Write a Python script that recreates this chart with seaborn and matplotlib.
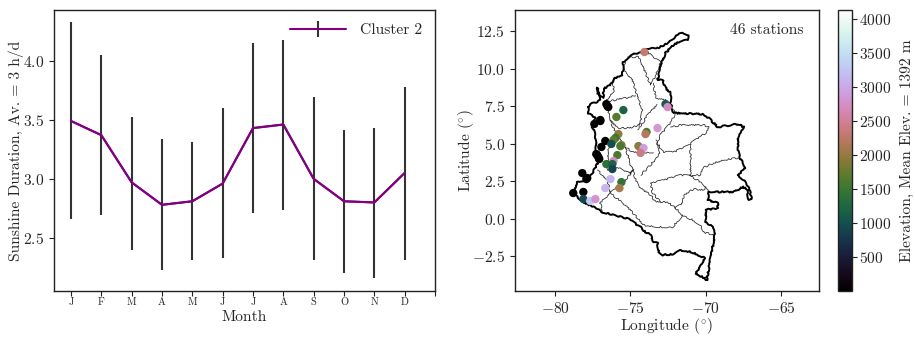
import matplotlib
matplotlib.use('Agg')
import matplotlib.pyplot as plt
import seaborn as sns
import pandas as pd
from matplotlib.cm import ScalarMappable
from matplotlib.colors import Normalize

months = ['J', 'F', 'M', 'A', 'M', 'J', 'J', 'A', 'S', 'O', 'N', 'D', '']
sun_mean = [3.49, 3.37, 2.97, 2.78, 2.81, 2.96, 3.43, 3.46, 3.00, 2.81, 2.80, 3.05]
sun_top = [4.33, 4.05, 3.52, 3.34, 3.31, 3.60, 4.15, 4.18, 3.69, 3.41, 3.43, 3.78]
sun_bottom = [2.66, 2.69, 2.40, 2.23, 2.31, 2.33, 2.71, 2.74, 2.31, 2.20, 2.16, 2.31]

# estaciones: lon, lat, elevacion
station_lon = [-74.07, -72.67, -72.53, -76.53, -76.47, -76.60, -75.47, -75.93, -77.00, -77.40,
               -73.20, -73.93, -74.00, -75.80, -76.00, -76.13, -76.67, -76.27, -76.93, -75.60,
               -75.67, -77.27, -77.07, -77.13, -74.47, -74.13, -74.33, -75.87, -76.13, -76.60,
               -76.20, -76.20, -78.20, -77.93, -76.33, -75.60, -75.73, -76.67, -78.80, -78.13,
               -78.13, -77.67, -77.33, -77.00, -77.20, -77.87]
station_lat = [11.10, 7.63, 7.43, 7.50, 7.43, 7.63, 7.23, 6.77, 6.57, 6.30,
               6.03, 5.77, 5.63, 5.63, 5.37, 5.23, 5.17, 4.97, 4.77, 4.90,
               4.83, 4.30, 3.97, 4.10, 4.83, 4.70, 4.37, 4.23, 3.83, 3.63,
               3.63, 3.30, 3.03, 2.63, 2.63, 2.43, 2.03, 2.03, 1.70, 1.77,
               1.30, 1.17, 1.30, 6.50, 4.23, 2.70]
station_elev = [2300, 1100, 2700, 30, 30, 30, 1200, 1650, 30, 30,
                2850, 1600, 2200, 2000, 1500, 1700, 30, 1000, 30, 1900,
                1600, 30, 30, 30, 1950, 2900, 2400, 1600, 2700, 1400,
                1200, 900, 30, 30, 3100, 1450, 2100, 3100, 30, 30,
                950, 3300, 2800, 30, 30, 30]

border_lon = [-77.80, -77.53, -77.20, -77.00, -77.27, -77.20, -77.00, -76.80, -76.80, -76.20,
              -76.00, -75.53, -75.47, -75.13, -74.80, -74.33, -74.00, -73.13, -72.20, -72.00,
              -71.53, -71.13, -71.20, -71.80, -72.13, -72.67, -73.00, -73.20, -72.87, -72.67,
              -72.33, -72.33, -72.13, -70.20, -69.80, -69.20, -68.33, -67.87, -67.47, -67.67,
              -67.87, -67.87, -67.73, -67.33, -67.87, -67.47, -67.13, -66.93, -67.13, -67.27,
              -67.53, -68.13, -69.80, -69.87, -69.20, -69.20, -70.00, -70.00, -69.53, -69.40,
              -69.93, -70.20, -70.67, -70.07, -70.93, -71.73, -72.20, -72.87, -73.13, -73.20,
              -73.47, -73.67, -74.20, -74.33, -75.13, -76.00, -76.87, -77.47, -78.13, -78.80,
              -78.53, -78.00, -77.53, -77.13, -77.47, -77.27, -77.33, -77.53, -77.33, -77.80, -77.80]
border_lat = [7.43, 7.70, 7.77, 7.90, 8.63, 8.70, 8.23, 8.03, 8.63, 9.03,
              9.37, 9.50, 10.43, 10.77, 11.03, 11.03, 11.30, 11.37, 11.90, 12.23,
              12.37, 12.23, 11.90, 11.77, 11.57, 11.03, 10.23, 9.23, 9.23, 8.70,
              8.37, 7.70, 7.03, 6.97, 6.70, 6.10, 6.23, 6.30, 6.10, 5.70,
              5.37, 4.57, 4.03, 3.37, 2.90, 2.57, 2.03, 1.30, 1.23, 1.97,
              2.10, 1.77, 1.77, 1.23, 1.03, 0.70, 0.57, -0.23, -0.57, -1.10,
              -4.10, -3.90, -3.70, -2.63, -2.23, -2.10, -2.37, -2.43, -2.23, -1.63,
              -1.57, -1.10, -0.77, -0.57, -0.03, 0.23, 0.43, 0.77, 1.10, 1.70,
              2.43, 2.57, 3.03, 3.77, 4.23, 4.43, 5.70, 6.10, 6.70, 7.03, 7.43]

# limites entre departamentos
dept_lines = [
    ([-72.33, -71.67, -70.13, -69.80, -70.00, -70.87, -71.07, -72.13, -72.80, -73.00, -73.33],
     [6.10, 6.23, 6.23, 6.10, 5.70, 5.10, 4.90, 4.43, 4.43, 4.70, 5.23]),
    ([-71.07, -71.07], [4.90, 2.90]),
    ([-67.73, -68.47, -69.47, -70.20, -70.40, -70.87, -71.67, -72.33, -73.00, -73.67, -73.53, -73.00, -72.53, -72.00],
     [4.03, 3.97, 3.70, 3.37, 2.90, 2.83, 2.90, 2.70, 2.50, 2.37, 1.70, 1.10, 1.10, 0.70]),
    ([-71.07, -70.47, -70.00, -70.13, -70.80, -71.47, -71.53, -72.00, -71.53, -70.87, -70.33, -70.20, -69.40],
     [2.90, 2.50, 2.10, 1.90, 1.97, 1.57, 1.03, 0.70, 0.23, -0.10, -0.43, -0.90, -1.10]),
    ([-70.00, -69.80], [2.10, 1.77]),
    ([-74.80, -74.67, -74.33, -73.67, -73.33, -73.00], [3.23, 2.57, 2.03, 1.57, 1.10, 1.10]),
    ([-76.33, -75.13, -74.53, -74.20, -73.00, -72.20, -71.53], [1.70, 0.70, 0.03, -0.43, -0.57, -0.57, 0.23]),
    ([-76.87, -77.00, -76.33, -76.53, -77.20], [0.43, 1.03, 1.70, 2.57, 3.23]),
    ([-76.53, -75.80, -75.00, -74.80, -75.33, -76.33], [3.23, 3.37, 3.03, 3.23, 2.57, 1.70]),
    ([-75.33, -75.47, -74.87, -74.47, -74.20, -74.33, -74.47], [10.57, 9.90, 9.23, 7.90, 7.23, 6.37, 5.90]),
    ([-75.20, -74.47, -74.13, -73.67, -73.47, -73.00, -73.53, -74.00], [10.77, 10.77, 10.03, 8.90, 9.23, 10.43, 10.77, 11.23]),
    ([-73.47, -73.33, -72.67, -72.00, -72.33, -73.00, -73.20, -73.00, -73.67, -74.33],
     [9.03, 8.03, 7.90, 7.03, 6.37, 5.57, 4.90, 4.37, 3.57, 2.90]),
    ([-74.33, -73.80, -73.20], [6.10, 7.03, 7.57]),
    ([-76.13, -76.13, -76.67, -75.33, -74.67], [9.37, 8.43, 7.77, 8.03, 8.23]),
    ([-76.67, -76.33, -75.87, -74.87, -74.33], [7.77, 6.57, 6.03, 6.03, 6.37]),
    ([-76.33, -76.00, -75.33, -74.87, -74.47, -73.47], [6.57, 5.70, 4.77, 4.43, 4.37, 4.43]),
    ([-76.00, -76.47, -76.53], [5.70, 4.57, 3.23]),
    ([-75.33, -75.00, -74.80], [4.77, 3.57, 3.23]),
]

sns.set_style('ticks')
plt.rcParams['font.family'] = ['cmr10', 'DejaVu Sans']
plt.rcParams['mathtext.fontset'] = 'cm'
plt.rcParams['axes.formatter.use_mathtext'] = True
plt.rcParams['axes.unicode_minus'] = True
plt.rcParams['axes.edgecolor'] = '#222222'
plt.rcParams['axes.linewidth'] = 1.0

FS = 11.2
W, H = 915, 339
fig = plt.figure(figsize=(W / 100, H / 100), dpi=100)
ax1 = fig.add_axes([54 / W, 1 - 291 / H, 381 / W, 281 / H])
ax2 = fig.add_axes([515 / W, 1 - 291 / H, 304 / W, 281 / H])
cax = fig.add_axes([838 / W, 1 - 291 / H, 14 / W, 281 / H])

# panel izquierdo
df = pd.DataFrame({'month': range(12), 'mean': sun_mean, 'top': sun_top, 'bottom': sun_bottom})
ax1.errorbar(df['month'], df['mean'],
             yerr=[df['mean'] - df['bottom'], df['top'] - df['mean']],
             color='purple', ecolor='#333333', elinewidth=1.5, linewidth=1.5, label='Cluster 2')
sns.lineplot(data=df, x='month', y='mean', color='purple', linewidth=1.5, ax=ax1, legend=False, zorder=4)
ax1.set_xlim(-0.56, 12)
ax1.set_ylim(2.05, 4.43)
ax1.set_xticks(range(13))
ax1.set_xticklabels(months, fontsize=7.5)
ax1.set_yticks([2.5, 3.0, 3.5, 4.0])
ax1.tick_params(axis='y', labelsize=FS, length=3.5, width=0.8, color='#222222', left=True)
ax1.tick_params(axis='x', length=3.5, width=0.8, color='#222222', bottom=True, pad=1.5)
ax1.set_xlabel('Month', fontsize=FS, labelpad=2)
ax1.set_ylabel('Sunshine Duration, Av. = 3 h/d', fontsize=FS, labelpad=-1)
ax1.legend(loc='upper right', frameon=False, fontsize=FS, handlelength=3.6, handletextpad=0.9,
           bbox_to_anchor=(0.99, 0.985), borderaxespad=0.2)

# mapa
for lon, lat in dept_lines:
    line, = ax2.plot(lon, lat, color='#222222', linewidth=0.55, zorder=1)
    line.set_sketch_params(0.8, 7, 16)
coast, = ax2.plot(border_lon, border_lat, color='black', linewidth=1.4, zorder=2)
coast.set_sketch_params(0.7, 9, 16)
stations = pd.DataFrame({'lon': station_lon, 'lat': station_lat, 'elev': station_elev})
norm = Normalize(2, 4132)
sns.scatterplot(data=stations, x='lon', y='lat', hue='elev', hue_norm=norm, palette='cubehelix',
                s=36, linewidth=0, legend=False, ax=ax2, zorder=3)
ax2.set_xlim(-82.67, -62.47)
ax2.set_ylim(-4.83, 13.9)
ax2.set_xticks([-80, -75, -70, -65])
ax2.set_yticks([-2.5, 0, 2.5, 5, 7.5, 10, 12.5])
ax2.tick_params(labelsize=FS, length=3.5, width=0.8, color='#222222', left=True, bottom=True)
ax2.set_xlabel('Longitude ($^{\\circ}$)', fontsize=FS, labelpad=0)
ax2.set_ylabel('Latitude ($^{\\circ}$)', fontsize=FS, labelpad=-3)
ax2.text(0.95, 0.927, '46 stations', transform=ax2.transAxes, ha='right', va='center', fontsize=FS)

# barra de color
cb = fig.colorbar(ScalarMappable(norm=norm, cmap='cubehelix'), cax=cax)
cb.set_ticks([500, 1000, 1500, 2000, 2500, 3000, 3500, 4000])
cb.ax.tick_params(labelsize=FS, length=3.5, width=0.8, color='#222222', right=True, pad=1.5)
cb.set_label('Elevation, Mean Elev. = 1392 m', fontsize=FS, labelpad=6)

fig.savefig('out.png', dpi=100)
